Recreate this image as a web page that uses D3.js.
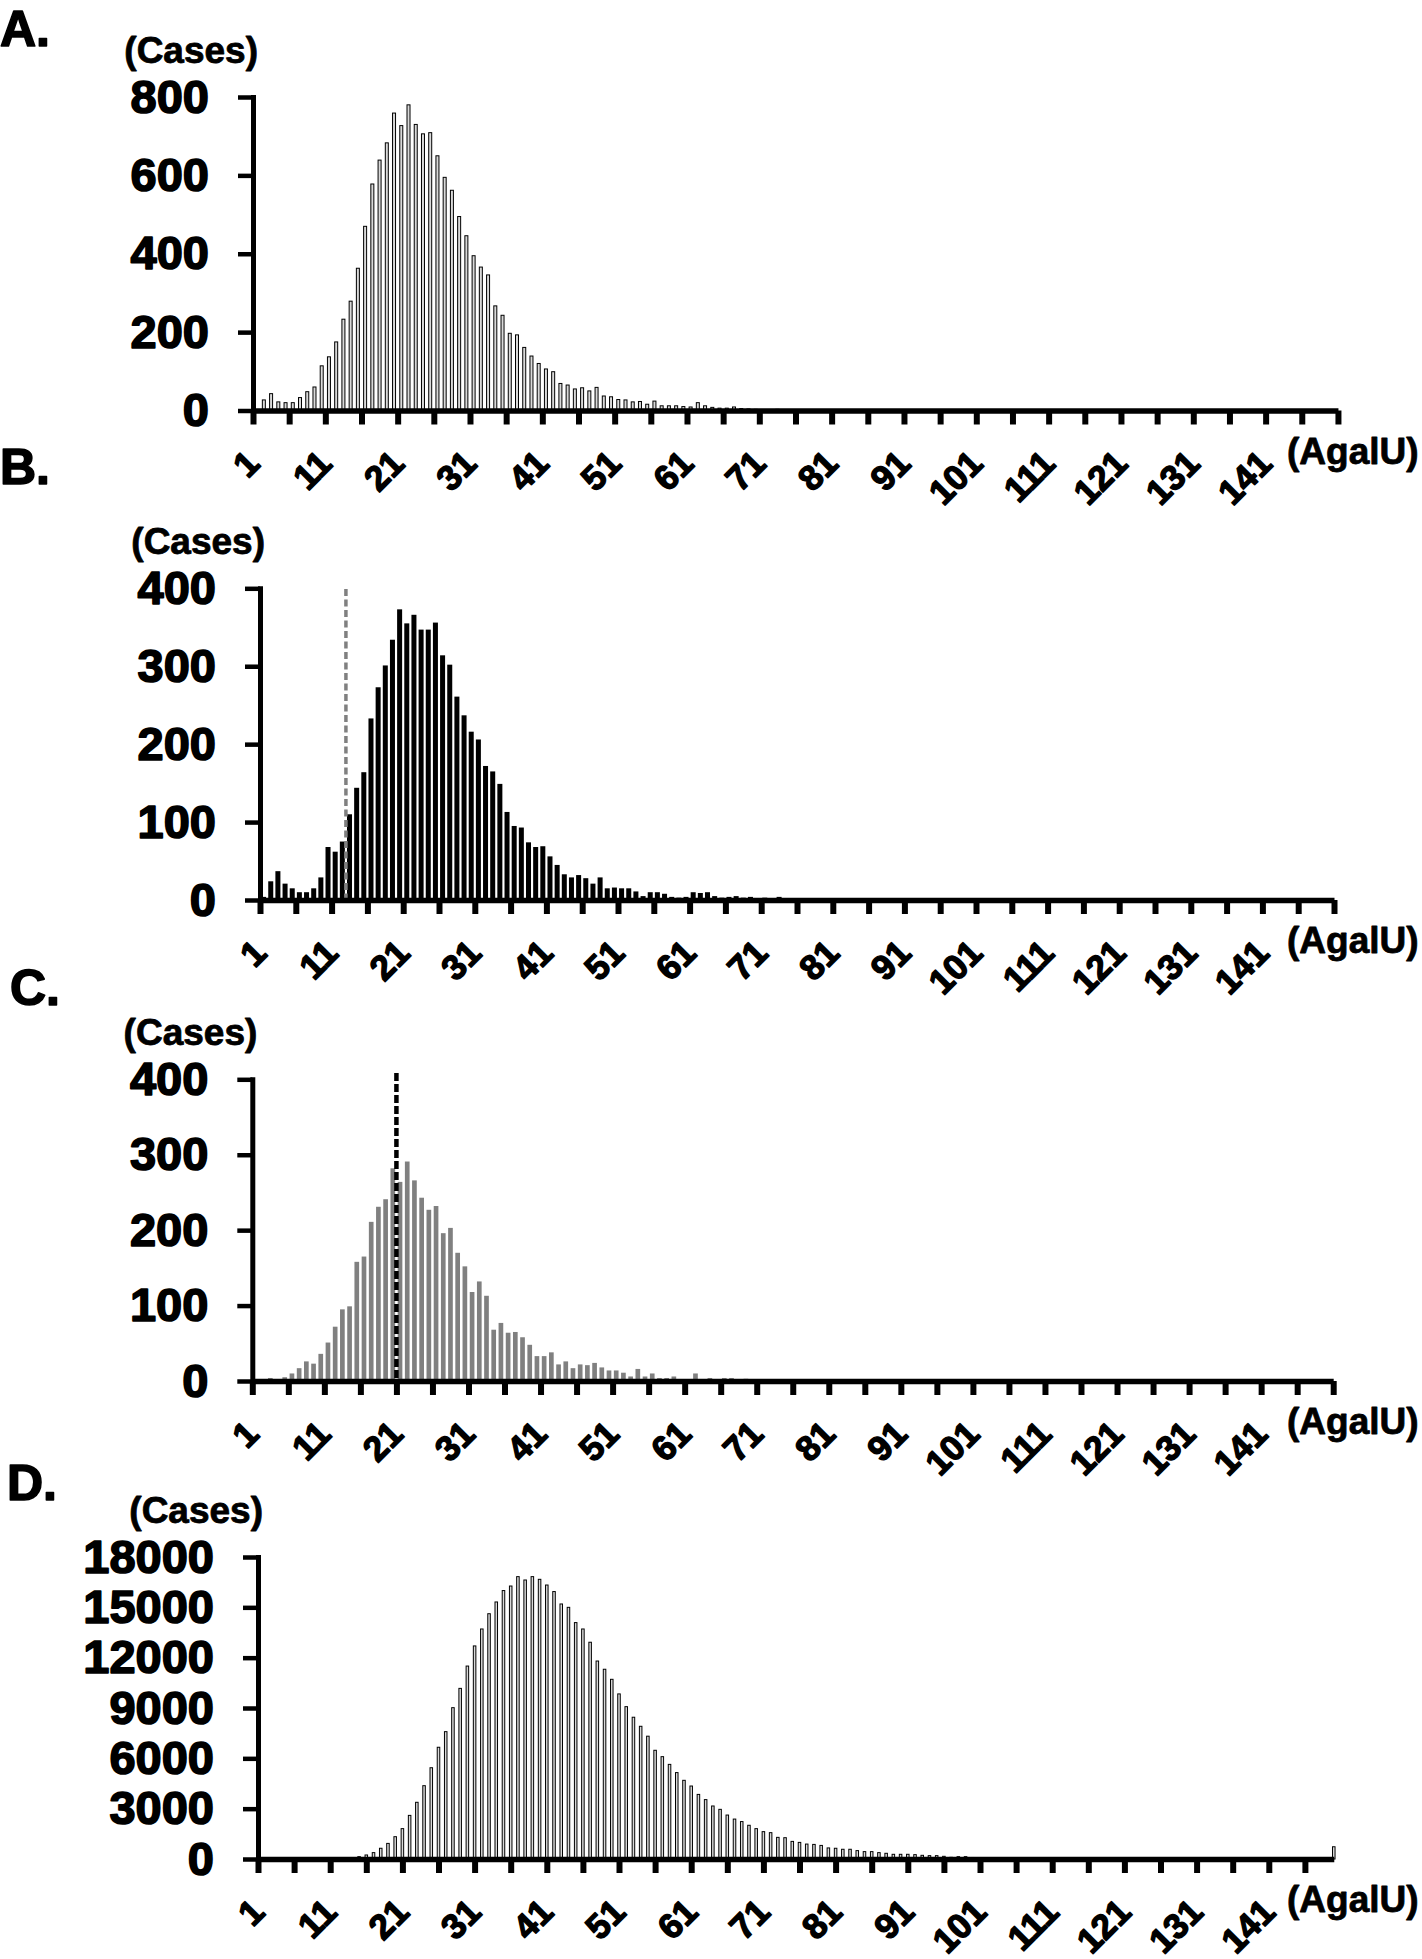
<!DOCTYPE html>
<html>
<head>
<meta charset="utf-8">
<script src="https://cdn.jsdelivr.net/npm/d3@7"></script>
<style>
body { margin: 0; background: #fff; }
text { font-family: "Liberation Sans", Arial, sans-serif; font-weight: bold; }
</style>
</head>
<body>
<script>
// AgalU categories 1..150, counts per category
var categories = d3.range(1, 151);

var casesA = [
  0, 27, 43, 22, 20, 20, 33, 48, 60, 114,
  137, 175, 233, 279, 363, 470, 578, 639, 683, 759,
  727, 780, 730, 706, 709, 650, 595, 562, 495, 446,
  395, 366, 346, 267, 243, 197, 193, 161, 139, 120,
  106, 99, 69, 65, 55, 58, 50, 59, 37, 35,
  28, 27, 22, 23, 16, 24, 12, 12, 12, 10,
  9, 20, 12, 8, 6, 6, 9, 5, 4, 3,
  2, 1, 3, 0, 1, 0, 0, 0, 0, 0,
  0, 0, 0, 0, 0, 0, 0, 0, 0, 0,
  0, 0, 0, 0, 0, 0, 0, 0, 0, 0,
  0, 0, 0, 0, 0, 0, 0, 0, 0, 0,
  0, 0, 0, 0, 0, 0, 0, 0, 0, 0,
  0, 0, 0, 0, 0, 0, 0, 0, 0, 0,
  0, 0, 0, 0, 0, 0, 0, 0, 0, 0,
  0, 0, 0, 0, 0, 0, 0, 0, 0, 0
];

var casesB = [
  4, 24, 37, 21, 15, 10, 10, 15, 29, 68,
  62, 75, 110, 144, 164, 233, 273, 301, 334, 373,
  355, 366, 347, 347, 356, 314, 302, 261, 237, 216,
  206, 172, 165, 149, 113, 95, 93, 74, 68, 69,
  56, 45, 33, 29, 32, 28, 21, 29, 15, 16,
  15, 15, 11, 5, 10, 10, 8, 4, 3, 4,
  10, 9, 10, 5, 3, 4, 5, 3, 4, 2,
  3, 2, 4, 1, 2, 1, 0, 1, 2, 0,
  0, 0, 0, 0, 0, 0, 0, 0, 0, 0,
  0, 0, 0, 0, 0, 0, 0, 0, 0, 0,
  0, 0, 0, 0, 0, 0, 0, 0, 0, 0,
  0, 0, 0, 0, 0, 0, 0, 0, 0, 0,
  0, 0, 0, 0, 0, 0, 0, 0, 0, 0,
  0, 0, 0, 0, 0, 0, 0, 0, 0, 0,
  0, 0, 0, 0, 0, 0, 0, 0, 0, 0
];

var casesC = [
  0, 0, 4, 1, 5, 10, 17, 26, 23, 36,
  51, 72, 95, 99, 158, 165, 211, 231, 241, 282,
  264, 291, 266, 243, 227, 232, 196, 203, 170, 152,
  118, 132, 113, 68, 77, 64, 65, 58, 48, 33,
  33, 38, 22, 26, 17, 22, 21, 24, 18, 14,
  14, 11, 6, 16, 6, 10, 4, 4, 6, 1,
  1, 10, 1, 4, 1, 4, 4, 2, 3, 0,
  0, 0, 0, 0, 0, 0, 0, 0, 0, 0,
  0, 0, 0, 0, 0, 0, 0, 0, 0, 0,
  0, 0, 0, 0, 0, 0, 0, 0, 0, 0,
  0, 0, 0, 0, 0, 0, 0, 0, 0, 0,
  0, 0, 0, 0, 0, 0, 0, 0, 0, 0,
  0, 0, 0, 0, 0, 0, 0, 0, 0, 0,
  0, 0, 0, 0, 0, 0, 0, 0, 0, 0,
  0, 0, 0, 0, 0, 0, 0, 0, 0, 0
];

var casesD = [
  0, 0, 0, 0, 0, 0, 0, 0, 0, 0,
  0, 0, 0, 30, 140, 240, 380, 640, 930, 1330,
  1810, 2600, 3380, 4370, 5440, 6660, 7590, 9020, 10170, 11500,
  12700, 13710, 14620, 15320, 16000, 16270, 16830, 16630, 16830, 16670,
  16330, 15940, 15200, 15000, 14090, 13710, 12920, 11800, 11310, 10710,
  9840, 9080, 8450, 7910, 7320, 6480, 6100, 5640, 5150, 4690,
  4350, 3850, 3540, 3160, 2960, 2620, 2380, 2230, 2010, 1810,
  1630, 1570, 1290, 1270, 1050, 990, 890, 870, 810, 660,
  640, 580, 580, 500, 440, 440, 380, 340, 280, 280,
  280, 260, 220, 200, 200, 160, 100, 140, 140, 90,
  60, 50, 30, 20, 10, 0, 0, 0, 0, 0,
  0, 0, 0, 0, 0, 0, 0, 0, 0, 0,
  0, 0, 0, 0, 0, 0, 0, 0, 0, 0,
  0, 0, 0, 0, 0, 0, 0, 0, 0, 0,
  0, 0, 0, 0, 0, 0, 0, 0, 0, 730
];

var yTicksA = [0, 200, 400, 600, 800];
var yTicksBC = [0, 100, 200, 300, 400];
var yTicksD = [0, 3000, 6000, 9000, 12000, 15000, 18000];
var xTickLabels = ['1', '11', '21', '31', '41', '51', '61', '71', '81', '91',
                   '101', '111', '121', '131', '141'];

// dashed cut-off lines sit on category boundaries (after category N)
var cutoffB = 12;
var cutoffC = 20;

var svg = d3.select('body')
  .append('svg')
  .attr('width', 1422)
  .attr('height', 1959);

svg.append('rect')
  .attr('width', 1422)
  .attr('height', 1959)
  .attr('fill', 'white');

var panels = [
  { letter: 'A.', data: casesA, ticks: yTicksA, max: 800,
    left: 253, top: 97, base: 410.5, step: 7.233, letterX: 0, letterY: 46,
    fill: '#d9d9d9', stroke: '#000', pad: 0.585, onTicks: false },
  { letter: 'B.', data: casesB, ticks: yTicksBC, max: 400,
    left: 260, top: 588.3, base: 900, step: 7.16, letterX: 0, letterY: 484,
    fill: '#000', stroke: 'none', pad: 0.30, onTicks: false,
    cutoff: cutoffB, cutColor: '#808080', cutWidth: 3.5, cutDash: '7,3.5', cutTop: 589 },
  { letter: 'C.', data: casesC, ticks: yTicksBC, max: 400,
    left: 252.3, top: 1079.3, base: 1381, step: 7.206, letterX: 10, letterY: 1005,
    fill: '#808080', stroke: 'none', pad: 0.35, onTicks: false,
    cutoff: cutoffC, cutColor: '#000', cutWidth: 4.5, cutDash: '8,3', cutTop: 1073 },
  { letter: 'D.', data: casesD, ticks: yTicksD, max: 18000,
    left: 258, top: 1557, base: 1859, step: 7.22, letterX: 7, letterY: 1500,
    fill: '#d9d9d9', stroke: '#000', pad: 0.65, onTicks: true }
];

function labelFor(v) {
  return v % 10 === 0 ? xTickLabels[v / 10] : '';
}

// the original lettering is heavier than a plain bold face
function heavy(sel, w) {
  sel.attr('stroke', '#000').attr('stroke-width', w).attr('stroke-linejoin', 'round');
}

function drawPanel(p) {
  var g = svg.append('g');

  var y = d3.scaleLinear()
    .domain([0, p.max])
    .range([p.base, p.top]);

  var rows = categories.map(function(c, i) { return { cat: c, value: p.data[i] }; });

  var xAxis, xPos, barW;
  if (p.onTicks) {
    // categories sit on the tick marks
    var xp = d3.scalePoint()
      .domain(categories)
      .range([p.left, p.left + (categories.length - 1) * p.step]);
    barW = p.step * (1 - p.pad);
    xPos = function(d) { return xp(d.cat) - barW / 2; };
    xAxis = d3.axisBottom(xp)
      .tickValues(categories.filter(function(c) { return (c - 1) % 5 === 0; }))
      .tickFormat(function(c) { return labelFor(c - 1); });
  } else {
    // categories sit between the tick marks
    var xb = d3.scaleBand()
      .domain(categories)
      .range([p.left, p.left + categories.length * p.step])
      .paddingInner(p.pad)
      .paddingOuter(p.pad / 2);
    var xt = d3.scaleLinear()
      .domain([0, categories.length])
      .range([p.left, p.left + categories.length * p.step]);
    barW = xb.bandwidth();
    xPos = function(d) { return xb(d.cat); };
    xAxis = d3.axisBottom(xt)
      .tickValues(d3.range(0, categories.length + 1, 5))
      .tickFormat(labelFor);
    p.xt = xt;
  }

  var strokeW = p.stroke === 'none' ? 0 : 1;
  g.append('g')
    .selectAll('rect')
    .data(rows.filter(function(d) { return d.value > 0; }))
    .enter()
    .append('rect')
    .attr('x', xPos)
    .attr('y', function(d) { return y(d.value); })
    .attr('width', barW)
    .attr('height', function(d) { return p.base - y(d.value); })
    .attr('fill', p.fill)
    .attr('stroke', p.stroke)
    .attr('stroke-width', strokeW);

  if (p.cutoff !== undefined) {
    var cx = p.xt(p.cutoff);
    g.append('line')
      .attr('x1', cx).attr('x2', cx)
      .attr('y1', p.cutTop).attr('y2', p.base - 2)
      .attr('stroke', p.cutColor)
      .attr('stroke-width', p.cutWidth)
      .attr('stroke-dasharray', p.cutDash);
  }

  // y axis
  var yg = g.append('g')
    .attr('transform', 'translate(' + p.left + ',0)')
    .call(d3.axisLeft(y).tickValues(p.ticks).tickFormat(d3.format('d'))
      .tickSize(15).tickSizeOuter(0).tickPadding(29));
  yg.select('.domain').attr('stroke-width', 5).attr('stroke-linecap', 'square');
  yg.selectAll('.tick line').attr('stroke-width', 4.5);
  yg.selectAll('.tick text').style('font-size', '47px').call(heavy, 1.6);

  // x axis
  var xg = g.append('g')
    .attr('transform', 'translate(0,' + p.base + ')')
    .call(xAxis.tickSize(14).tickSizeOuter(0));
  xg.select('.domain').attr('stroke-width', 5.5);
  xg.selectAll('.tick line').attr('stroke-width', 6);
  xg.selectAll('.tick text')
    .attr('x', 0)
    .attr('y', 0)
    .attr('dy', 0)
    .attr('transform', 'translate(8,55) rotate(-45)')
    .style('text-anchor', 'end')
    .style('font-size', '35px')
    .call(heavy, 1.4);

  g.append('text')
    .attr('x', p.letterX)
    .attr('y', p.letterY)
    .style('font-size', '50px')
    .call(heavy, 1.6)
    .text(p.letter);

  g.append('text')
    .attr('x', p.left + 5)
    .attr('y', p.top - 34)
    .attr('text-anchor', 'end')
    .style('font-size', '37px')
    .call(heavy, 0.8)
    .text('(Cases)');

  g.append('text')
    .attr('x', 1287)
    .attr('y', p.base + 53)
    .style('font-size', '37px')
    .call(heavy, 0.8)
    .text('(AgalU)');
}

panels.forEach(drawPanel);
</script>
</body>
</html>
